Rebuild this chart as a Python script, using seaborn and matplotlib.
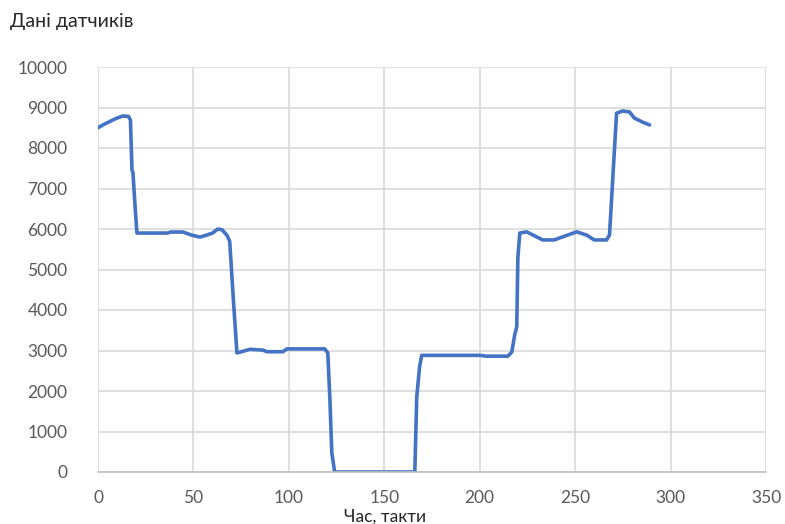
import matplotlib
matplotlib.use("Agg")
import matplotlib.pyplot as plt
import seaborn as sns
import pandas as pd

# Breakpoints of the sensor trace
ticks_t = [0, 3, 6, 9, 13, 16, 17, 17.8, 18.3, 19.5, 20.4, 36.6, 38, 44.5, 49, 53.4, 57, 60, 62.8, 65,
           67.5, 69, 71, 72.8, 76, 79.6, 86.4, 88.5, 96.9, 99, 118.8, 120.4, 121.5, 122.5, 124,
           166, 167, 168.5, 169.6, 184, 200, 203.7, 214.7, 216.8, 218.3, 219.4, 220, 221, 224.6,
           233, 239, 250.8, 256, 260, 266.5, 268, 271.7, 274.9, 278.5, 281, 285.3, 289]
sensor = [8500, 8580, 8650, 8720, 8790, 8780, 8690, 7457, 7400, 6500, 5900, 5900, 5925, 5925, 5850, 5800,
          5850, 5900, 6000, 5980, 5850, 5700, 4200, 2940, 2980, 3030, 3010, 2970, 2970, 3040, 3040, 2940,
          1800, 470, 0, 0, 1850, 2600, 2880, 2880, 2880, 2860, 2860, 2960, 3380, 3580, 5300, 5900, 5930,
          5730, 5730, 5930, 5850, 5730, 5730, 5850, 8860, 8915, 8890, 8740, 8640, 8570]

x_ticks = [0, 50, 100, 150, 200, 250, 300, 350]
y_ticks = [0, 1000, 2000, 3000, 4000, 5000, 6000, 7000, 8000, 9000, 10000]
title = "Дані датчиків"
x_label = "Час, такти"

df = pd.DataFrame({"t": ticks_t, "v": sensor})

sns.set_style("white")
plt.rcParams["font.family"] = ["Lato", "Open Sans", "DejaVu Sans"]

fig = plt.figure(figsize=(7.85, 5.24), dpi=100)
ax = fig.add_axes([98 / 785, 1 - 472 / 524, (766 - 98) / 785, (472 - 67) / 524])

sns.lineplot(data=df, x="t", y="v", ax=ax, color="#4472C4", linewidth=2.6, estimator=None, sort=False)

ax.set_xlim(0, 350)
ax.set_ylim(0, 10000)
ax.set_xticks(x_ticks)
ax.set_yticks(y_ticks)
ax.set_xticklabels([str(v) for v in x_ticks])
ax.set_yticklabels([str(v) for v in y_ticks])
ax.grid(True, color="#d9d9d9", linewidth=1.2)
ax.set_axisbelow(True)
for s in ["top", "right", "left"]:
    ax.spines[s].set_visible(False)
ax.spines["bottom"].set_color("#bfbfbf")
ax.spines["bottom"].set_linewidth(1.2)
ax.tick_params(axis="both", length=0, colors="#595959", labelsize=12.5)
ax.tick_params(axis="y", pad=22)
ax.tick_params(axis="x", pad=13)
ax.set_xlabel("")
ax.set_ylabel("")

fig.text(x=385 / 785, y=1 - 517 / 524, s=x_label, ha="center", va="center", fontsize=12.5, color="#262626")
fig.text(x=10 / 785, y=1 - 22 / 524, s=title, ha="left", va="center", fontsize=14, color="#262626")

fig.savefig("out.png", dpi=100)
